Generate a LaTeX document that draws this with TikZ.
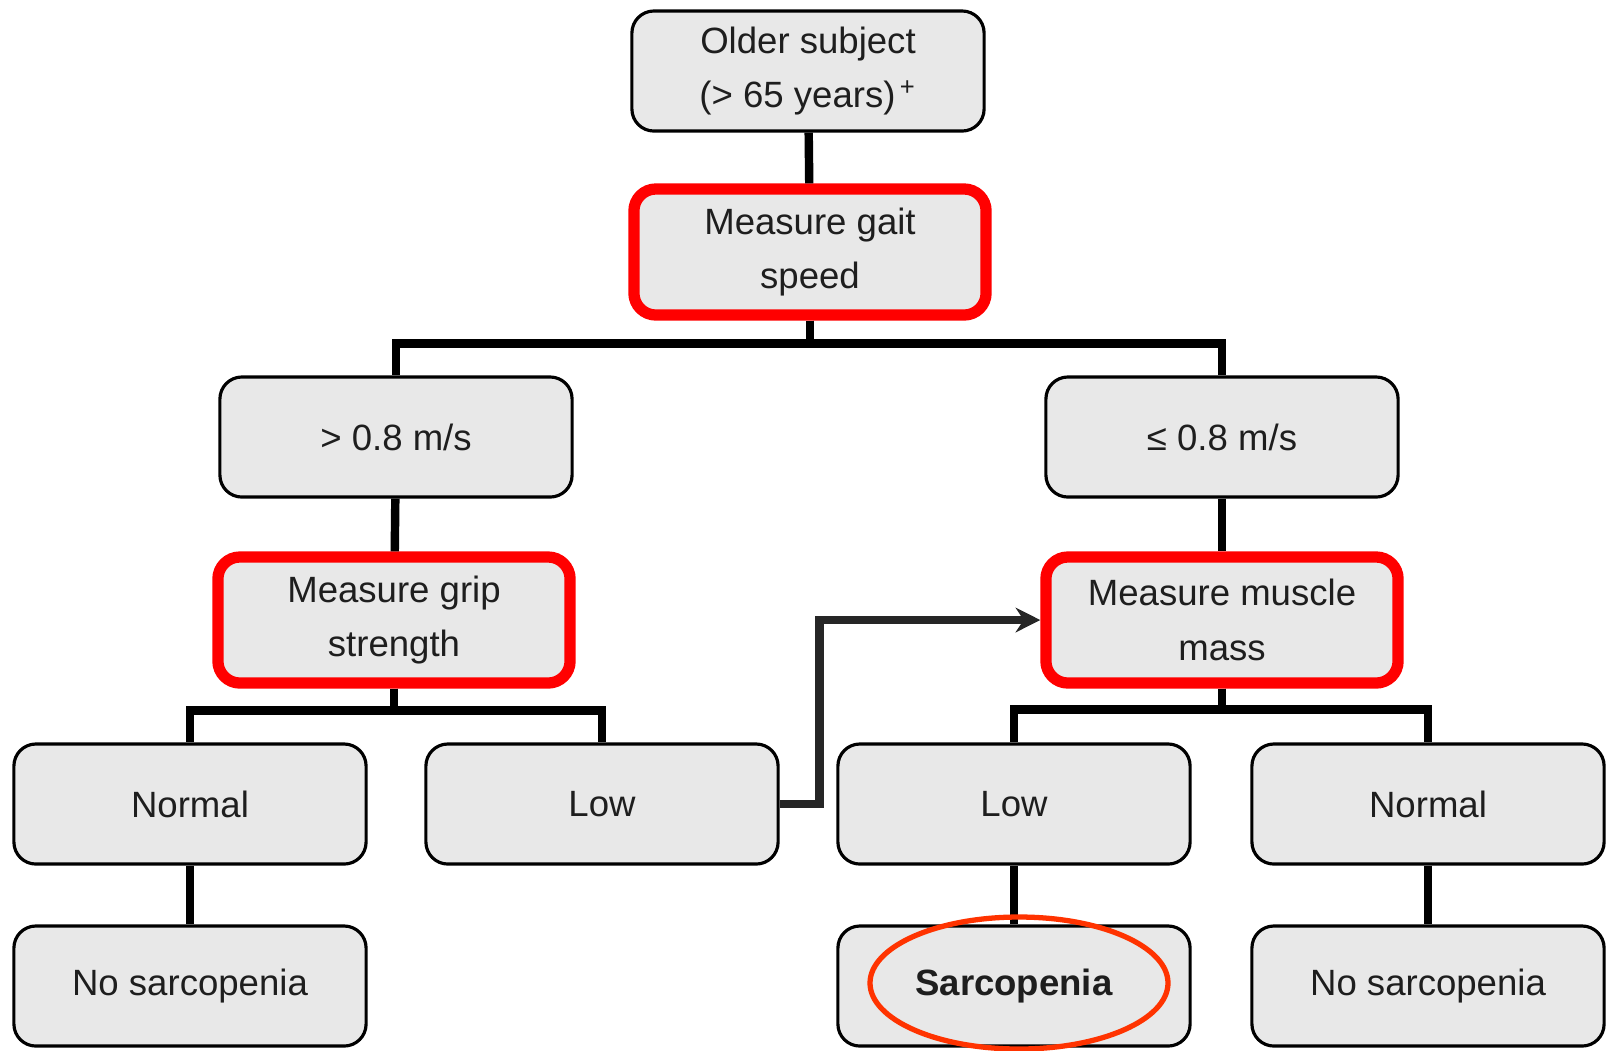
\documentclass[tikz,border=0pt]{standalone}
\usepackage{fontspec}
\setmainfont{Liberation Sans}
\usetikzlibrary{arrows.meta}
\definecolor{boxgray}{RGB}{232,232,232}
\definecolor{textgray}{RGB}{30,30,30}
\definecolor{markred}{RGB}{255,0,0}
\definecolor{ringred}{RGB}{255,51,0}
\definecolor{arrowgray}{RGB}{38,38,38}
\tikzset{>=stealth}
\tikzset{
  box/.style={draw, line width=0.9pt, fill=boxgray, rounded corners=0.22cm,
    minimum width=3.52cm, minimum height=1.2cm, align=center, text=textgray,
    font=\fontsize{10.4}{15.6}\selectfont},
  redbox/.style={box, draw=markred, line width=3.2pt, minimum height=1.26cm},
  conn/.style={line width=2.4pt, black},
}

\begin{document}
\begin{tikzpicture}[x=0.01cm, y=-0.01cm]
    \useasboundingbox (0,0) rectangle (1606,1050);
    \node[box] (older) at (808,71) {Older subject\\ (> 65 years)\textsuperscript{\,+}};
    \node[redbox] (gait) at (810,252) {Measure gait\\ speed};
    \node[box] (fast) at (396,437) {> 0.8 m/s};
    \node[box] (slow) at (1222,437) {≤ 0.8 m/s};
    \node[redbox] (grip) at (394,620) {Measure grip\\ strength};
    \node[redbox] (muscle) at (1222,620) {Measure muscle\\ mass};
    \node[box] (normalgrip) at (190,804) {Normal};
    \node[box] (lowgrip) at (602,804) {Low};
    \node[box] (lowmass) at (1014,804) {Low};
    \node[box] (normalmass) at (1428,804) {Normal};
    \node[box] (nosarcleft) at (190,986) {No sarcopenia};
    \node[box] (sarc) at (1014,986) {\textbf{Sarcopenia}};
    \node[box] (nosarcright) at (1428,986) {No sarcopenia};

    \draw[conn] (older) -- (gait);
    \draw[conn] (gait.south) -- ++(0,23) -| (fast.north);
    \draw[conn] (gait.south) -- ++(0,23) -| (slow.north);
    \draw[conn] (fast) -- (grip);
    \draw[conn] (slow) -- (muscle);
    \draw[conn] (grip.south) -- ++(0,22) -| (normalgrip.north);
    \draw[conn] (grip.south) -- ++(0,22) -| (lowgrip.north);
    \draw[conn] (muscle.south) -- ++(0,21) -| (lowmass.north);
    \draw[conn] (muscle.south) -- ++(0,21) -| (normalmass.north);
    \draw[conn] (normalgrip) -- (nosarcleft);
    \draw[conn] (lowmass) -- (sarc);
    \draw[conn] (normalmass) -- (nosarcright);
    \draw[line width=2.4pt, arrowgray, -{Stealth[length=7pt, width=7pt]}]
        (lowgrip.east) -- ++(40,0) |- (muscle.west);

    \draw[ringred, line width=1.5pt] (sarc.center) ++(5,-3) ellipse [x radius=149, y radius=66];
\end{tikzpicture}
\end{document}
